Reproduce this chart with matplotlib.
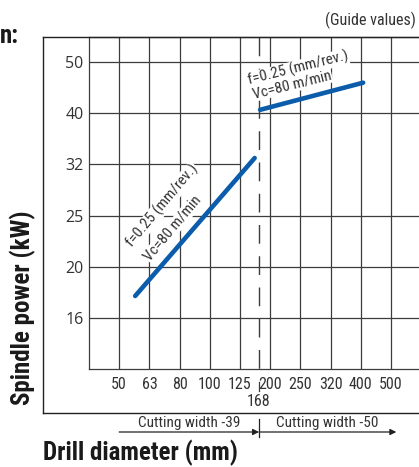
import numpy as np
import matplotlib
matplotlib.use("Agg")
import matplotlib.pyplot as plt
import matplotlib.transforms as mtrans
from matplotlib.lines import Line2D
from matplotlib import font_manager as fm

# ---------------- data ----------------
x_ticks = [50, 63, 80, 100, 125, 200, 250, 320, 400, 500]   # drill diameter (mm)
y_ticks = [16, 20, 25, 32, 40, 50]                          # spindle power (kW)
boundary_dia = 168

line1_x = [56.5, 157]     # cutting width -39
line1_y = [17.6, 32.9]
line2_x = [171, 407]      # cutting width -50
line2_y = [40.6, 45.7]

label_f = "f=0.25 (mm/rev.)"
label_vc = "Vc=80 m/min"
range_labels = ["Cutting width -39", "Cutting width -50"]
range_x = [50, 168, 520]

# ---------------- styling ----------------
W, H = 419, 467
DPI = 100
BLUE = "#0b5cab"
GRID = "#3c3c3c"
TXT = "#333333"


def find_font(bold):
    want_w = (600, 700, 800, "bold", "semibold", "demibold", "heavy", "extra bold") if bold else \
             (400, 500, "normal", "regular", "book", "medium")
    prefs = [
        ("Liberation Sans Narrow", None),
        ("Roboto Condensed", None),
        ("Open Sans Condensed", None),
        ("Open Sans", "condensed"),
        ("Noto Sans", "condensed"),
        ("DejaVu Sans Condensed", None),
        ("DejaVu Sans", "condensed"),
        ("Roboto", "condensed"),
        ("Liberation Sans", None),
    ]
    for name, stretch in prefs:
        for f in fm.fontManager.ttflist:
            if f.name != name or f.style != "normal":
                continue
            if f.weight not in want_w:
                continue
            if stretch is not None and str(f.stretch) not in ("condensed", "semi-condensed", "75", "87.5", "87"):
                continue
            return f.fname
    return None


def fp(size, bold=False):
    path = find_font(bold)
    if path:
        return fm.FontProperties(fname=path, size=size)
    return fm.FontProperties(family="DejaVu Sans", size=size,
                             weight="bold" if bold else "normal")


def fp_wide(size):
    return fm.FontProperties(family=["Open Sans", "DejaVu Sans"], size=size)


def make_scale(ticks):
    lt = np.log(np.asarray(ticks, float))
    idx = np.arange(len(lt), dtype=float)

    def fwd(v):
        v = np.asarray(v, float)
        lv = np.log(np.clip(v, 1e-12, None))
        out = np.interp(lv, lt, idx)
        out = np.where(lv < lt[0], (lv - lt[0]) / (lt[1] - lt[0]), out)
        out = np.where(lv > lt[-1], idx[-1] + (lv - lt[-1]) / (lt[-1] - lt[-2]), out)
        return out

    def inv(u):
        u = np.asarray(u, float)
        out = np.interp(u, idx, lt)
        out = np.where(u < 0, lt[0] + u * (lt[1] - lt[0]), out)
        out = np.where(u > idx[-1], lt[-1] + (u - idx[-1]) * (lt[-1] - lt[-2]), out)
        return np.exp(out)

    return fwd, inv


fx, ix = make_scale(x_ticks)
fy_, iy = make_scale(y_ticks)


def px(x):
    return x / W


def py(y):
    return 1 - y / H


fig = plt.figure(figsize=(W / DPI, H / DPI), dpi=DPI)
fig.patch.set_facecolor("white")

left, right, top, bottom = 89, 436.3, 37, 369
ax = fig.add_axes([px(left), py(bottom), (right - left) / W, (bottom - top) / H])
ax.set_xscale("function", functions=(fx, ix))
ax.set_yscale("function", functions=(fy_, iy))
xlo, xhi = float(ix(-1.0)), float(ix(10.5))
ylo, yhi = float(iy(-1.0)), float(iy(5.49))
ax.set_xlim(xlo, xhi)
ax.set_ylim(ylo, yhi)

for s in ax.spines.values():
    s.set_color(GRID)
    s.set_linewidth(0.9)
ax.spines["right"].set_visible(False)

# grid
for xv in x_ticks:
    ax.axvline(xv, color=GRID, lw=0.9, zorder=1)
for yv in y_ticks:
    xend = 125 if yv == 32 else xhi
    ax.hlines(yv, xlo, xend, color=GRID, lw=0.9, zorder=1)

ax.plot([boundary_dia, boundary_dia], [yhi, ylo], color=GRID, lw=1.0,
        dashes=(13.5, 9), zorder=1)

# data lines
ax.plot(line1_x, line1_y, color=BLUE, lw=3.3, solid_capstyle="round", zorder=3)
ax.plot(line2_x, line2_y, color=BLUE, lw=3.3, solid_capstyle="round", zorder=3)

# ticks
ax.set_xticks(x_ticks)
ax.set_xticklabels([str(v) for v in x_ticks], fontproperties=fp(11.5), color=TXT)
ax.set_yticks(y_ticks)
ax.set_yticklabels([str(v) for v in y_ticks], fontproperties=fp_wide(11.5), color=TXT)
ax.tick_params(axis="x", length=0, pad=6)
ax.tick_params(axis="y", length=0, pad=4)
ax.minorticks_off()

blend = mtrans.blended_transform_factory(ax.transData, fig.transFigure)

# 168 label
fig.add_artist(Line2D([boundary_dia, boundary_dia], [py(381.5), py(391)], transform=blend,
                      color=GRID, lw=0.9))
fig.text(boundary_dia, py(402), str(boundary_dia), transform=blend, ha="center", va="center",
         fontproperties=fp(11.5), color=TXT)

# range arrows
for a, b in [(range_x[0], range_x[1]), (range_x[1], range_x[2])]:
    ax.annotate("", xy=(b, py(432)), xytext=(a, py(432)),
                xycoords=blend, textcoords=blend,
                arrowprops=dict(arrowstyle="-|>", color="#222222", lw=0.9,
                                mutation_scale=9, shrinkA=0, shrinkB=0),
                annotation_clip=False)
fig.add_artist(Line2D([boundary_dia, boundary_dia], [py(419), py(437)], transform=blend,
                      color="#222222", lw=0.9))
for lab, a, b in zip(range_labels, range_x[:-1], range_x[1:]):
    mid = float(ix((fx(a) + fx(b)) / 2))
    fig.text(mid, py(423), lab, transform=blend, ha="center", va="center",
             fontproperties=fp(11), color=TXT)

# line annotations (baseline-left anchors, pixel positions), white knock-out behind
for txt, (x0, y0), rot in [
    (label_vc, (150, 262), 50),
    (label_f, (132.5, 248), 50),
    (label_vc, (254, 98.5), 14),
    (label_f, (249, 85), 14),
]:
    ax.text(px(x0), py(y0), txt, transform=fig.transFigure, rotation=rot,
            rotation_mode="anchor", ha="left", va="baseline",
            fontproperties=fp(11), color=TXT, zorder=2,
            bbox=dict(facecolor="white", edgecolor="none", pad=0.3))

# outer frame
FR = "#222222"
fig.add_artist(Line2D([px(42.5), px(42.5)], [py(37), py(413)], color=FR, lw=1.0))
fig.add_artist(Line2D([px(42.5), 1.0], [py(413), py(413)], color=FR, lw=1.0))
fig.add_artist(Line2D([px(42.5), 1.0], [py(37), py(37)], color=FR, lw=1.0))

# titles
TT = "#1a1a1a"
fig.text(px(43), py(453), "Drill diameter (mm)", ha="left", va="center",
         fontproperties=fp(18, True), color=TT)
fig.text(px(23), py(308), "Spindle power (kW)", ha="center", va="center", rotation=90,
         fontproperties=fp(18, True), color=TT)
fig.text(px(18.5), py(43), "n:", ha="right", va="baseline",
         fontproperties=fp(18, True), color=TT)
fig.text(px(416), py(20), "(Guide values)", ha="right", va="center",
         fontproperties=fp(11.5), color=TXT)

fig.savefig("out.png", dpi=DPI)
